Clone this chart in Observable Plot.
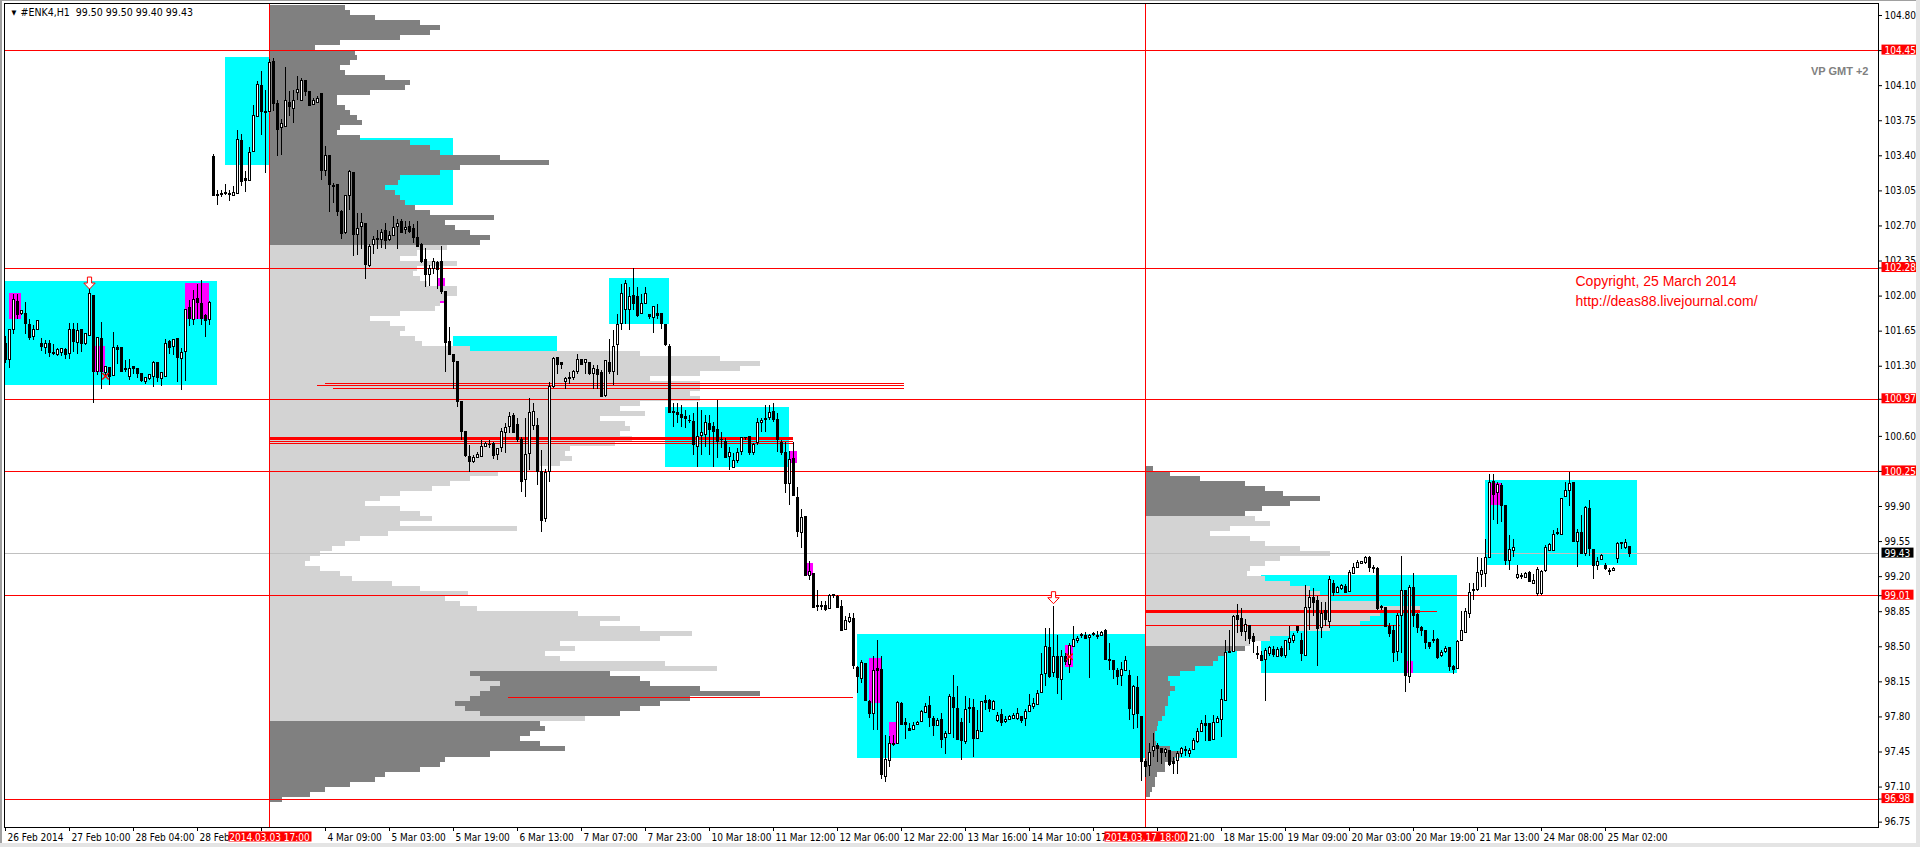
<!DOCTYPE html>
<html><head><meta charset="utf-8">
<script src="https://cdn.jsdelivr.net/npm/d3@7"></script>
<script src="https://cdn.jsdelivr.net/npm/@observablehq/plot@0.6"></script>
<style>
html,body{margin:0;padding:0;background:#fff;overflow:hidden}
#chart{width:1920px;height:847px}
</style></head><body><div id="chart"></div>
<script>
// ---------- DATA ----------
const chartTitle = "#ENK4,H1  99.50 99.50 99.40 99.43";
// H1 candles [open, high, low, close], one per bar
const candlesFeb = [
[101.52,101.60,101.33,101.36],[101.36,101.66,101.28,101.66],[101.66,102.02,101.62,101.96],[101.94,102.02,101.77,101.81],
[101.82,101.86,101.81,101.85],[101.82,101.94,101.62,101.72],[101.71,101.77,101.56,101.58],[101.59,101.71,101.56,101.66],
[101.66,101.76,101.66,101.75],[101.52,101.58,101.45,101.49],[101.48,101.56,101.42,101.52],[101.52,101.56,101.39,101.43],
[101.42,101.52,101.41,101.42],[101.41,101.48,101.40,101.46],[101.43,101.48,101.40,101.47],[101.46,101.48,101.37,101.41],
[101.42,101.73,101.37,101.66],[101.66,101.73,101.44,101.54],[101.53,101.73,101.42,101.65],[101.66,101.66,101.44,101.52],
[101.52,101.62,101.51,101.62],[101.60,102.09,101.60,102.02],[102.00,102.00,100.93,101.24],[101.24,101.58,101.21,101.58],
[101.57,101.74,101.07,101.24],[101.23,101.29,101.21,101.29],[101.28,101.28,101.11,101.19],[101.20,101.64,101.20,101.48],
[101.48,101.51,101.32,101.46],[101.48,101.48,101.24,101.24],[101.26,101.36,101.24,101.26],[101.19,101.37,101.16,101.27],
[101.29,101.30,101.22,101.27],[101.27,101.28,101.18,101.22],[101.22,101.22,101.14,101.15],[101.14,101.19,101.12,101.18],
[101.17,101.21,101.16,101.21],[101.19,101.35,101.09,101.33],[101.33,101.34,101.14,101.18],[101.17,101.24,101.10,101.23],
[101.19,101.57,101.19,101.52],[101.54,101.56,101.42,101.48],[101.49,101.57,101.41,101.56],[101.57,101.57,101.14,101.38],
[101.37,101.48,101.06,101.43],[101.44,101.86,101.15,101.86],[101.88,101.96,101.70,101.77],[101.76,102.06,101.71,101.96],
[101.97,102.12,101.77,101.93],[101.92,102.16,101.71,101.77],[101.80,101.82,101.59,101.75],[101.76,101.95,101.71,101.93]];
const candlesMar03 = [
[103.39,103.41,102.99,103.00],[103.01,103.05,102.90,103.00],[103.01,103.05,102.98,103.01],[103.02,103.11,103.00,103.02],
[103.01,103.05,102.94,103.01],[103.00,103.09,102.99,103.03],[103.02,103.65,103.02,103.56],[103.55,103.61,103.09,103.14],
[103.17,103.24,103.03,103.15],[103.15,103.48,103.15,103.43],[103.44,103.90,103.44,103.80],[103.79,104.14,103.78,104.11],
[104.10,104.24,103.60,103.84],[103.84,104.05,103.22,103.83],[103.84,104.36,103.84,104.33],[104.34,104.37,103.84,103.92],
[103.92,103.95,103.39,103.66],[103.68,103.76,103.40,103.72],[103.69,104.28,103.68,103.95],[103.93,104.04,103.79,103.89],
[103.87,104.05,103.72,103.95],[104.03,104.19,103.95,104.06],[103.95,104.17,103.94,104.15],[104.15,104.15,103.99,104.04],
[104.04,104.04,103.90,103.90],[103.91,103.97,103.90,103.95],[103.93,103.99,103.92,103.97],[104.02,104.02,103.15,103.25],
[103.25,103.49,103.19,103.40],[103.40,103.40,102.83,103.11],[103.09,103.12,102.92,103.09],[103.11,103.11,102.79,102.84],
[102.84,102.85,102.56,102.62],[102.63,103.00,102.61,103.00],[103.00,103.25,102.85,103.24],[103.23,103.23,102.40,102.61],
[102.61,102.82,102.41,102.67],[102.69,102.82,102.46,102.73],[102.72,102.72,102.17,102.31],[102.30,102.51,102.29,102.49],
[102.51,102.59,102.42,102.56],[102.57,102.65,102.46,102.56],[102.56,102.66,102.47,102.63],[102.65,102.72,102.46,102.55],
[102.56,102.64,102.54,102.60],[102.60,102.79,102.59,102.68],[102.69,102.76,102.46,102.72],[102.74,102.76,102.63,102.63],
[102.66,102.74,102.61,102.68],[102.69,102.74,102.62,102.64],[102.67,102.71,102.52,102.58],[102.58,102.74,102.49,102.49],
[102.51,102.52,102.33,102.34],[102.36,102.47,102.09,102.21],[102.21,102.31,102.10,102.27],[102.27,102.38,102.22,102.34],
[102.33,102.35,102.07,102.26],[102.34,102.49,102.02,102.04],[102.04,102.04,101.24,101.53],[101.54,101.69,101.41,101.41],
[101.41,101.42,101.07,101.34],[101.34,101.34,100.89,100.94],[100.94,100.95,100.56,100.64],[100.64,100.64,100.39,100.40],
[100.39,100.51,100.24,100.34],[100.34,100.41,100.33,100.38],[100.38,100.44,100.38,100.41],[100.39,100.56,100.39,100.49],
[100.49,100.54,100.49,100.52],[100.51,100.56,100.48,100.51],[100.52,100.54,100.37,100.40],[100.41,100.48,100.36,100.47],
[100.48,100.68,100.44,100.64],[100.63,100.73,100.43,100.68],[100.69,100.84,100.63,100.79],[100.80,100.83,100.63,100.63],
[100.71,100.78,100.54,100.56],[100.56,100.59,100.04,100.14],[100.16,100.78,99.99,100.41],[100.42,100.98,100.26,100.83],
[100.70,100.93,100.66,100.84],[100.70,100.78,100.11,100.24],[100.24,100.46,99.64,99.76],[99.78,100.27,99.74,100.23],
[100.24,101.14,100.14,101.09],[101.09,101.39,101.08,101.37],[101.38,101.39,101.22,101.31],[101.33,101.34,101.27,101.31],
[101.14,101.19,101.07,101.17],[101.17,101.24,101.12,101.18],[101.18,101.26,101.16,101.24],[101.24,101.42,101.22,101.36],
[101.36,101.37,101.31,101.31],[101.33,101.37,101.22,101.36],[101.33,101.34,101.21,101.22],[101.22,101.31,101.07,101.27],
[101.26,101.31,101.07,101.21],[101.23,101.26,100.99,100.99],[101.00,101.36,100.99,101.35],[101.33,101.57,101.22,101.24],
[101.24,101.66,101.11,101.49],[101.51,101.82,101.21,101.71],[101.72,102.12,101.66,102.02],[101.86,102.16,101.72,102.12],
[101.86,102.09,101.66,101.99],[102.00,102.28,101.86,101.92],[101.99,102.09,101.79,101.80],[101.82,102.02,101.82,101.92],
[101.92,102.09,101.92,102.02],[101.81,101.82,101.77,101.79],[101.78,101.90,101.63,101.89],[101.82,101.92,101.77,101.80],
[101.82,101.82,101.67,101.72],[101.71,101.72,101.50,101.51],[101.49,101.52,100.83,100.83]];
const candlesMar10 = [
[100.84,100.93,100.69,100.83],[100.83,100.93,100.73,100.81],[100.81,100.91,100.69,100.78],[100.79,100.86,100.68,100.77],
[100.75,100.81,100.73,100.75],[100.74,100.83,100.41,100.51],[100.49,100.94,100.29,100.59],[100.60,100.86,100.41,100.63],
[100.61,100.81,100.49,100.73],[100.72,100.81,100.41,100.66],[100.69,100.74,100.29,100.64],[100.66,100.96,100.38,100.54],
[100.56,100.64,100.48,100.56],[100.54,100.58,100.38,100.38],[100.39,100.49,100.26,100.43],[100.28,100.43,100.28,100.35],
[100.35,100.48,100.33,100.43],[100.44,100.59,100.41,100.58],[100.58,100.59,100.56,100.58],[100.59,100.59,100.41,100.43],
[100.43,100.53,100.41,100.51],[100.53,100.78,100.51,100.73],[100.73,100.78,100.64,100.75],[100.76,100.91,100.64,100.77],
[100.78,100.91,100.76,100.83],[100.84,100.93,100.74,100.76],[100.76,100.83,100.44,100.56],[100.53,100.56,100.41,100.43],
[100.43,100.54,100.03,100.12],[100.12,100.45,99.91,100.36],[100.37,100.54,100.00,100.00],[99.98,100.09,99.59,99.65],
[99.64,99.87,99.48,99.79],[99.80,99.80,99.20,99.21],[99.21,99.35,99.16,99.25],[99.23,99.23,98.88,98.89],
[98.91,99.06,98.85,98.90],[98.91,98.95,98.86,98.90],[98.91,98.95,98.85,98.87],[98.88,99.02,98.87,99.01],
[99.01,99.02,98.98,99.01],[99.00,99.01,98.88,98.89],[98.90,98.96,98.66,98.66],[98.67,98.80,98.66,98.76],
[98.75,98.83,98.73,98.79],[98.78,98.83,98.27,98.31],[98.29,98.30,98.03,98.20],[98.18,98.36,98.13,98.34],
[98.33,98.33,97.96,97.96],[97.95,97.96,97.78,97.83],[97.83,98.40,97.66,98.26],[98.28,98.56,97.66,98.26],
[98.27,98.40,97.18,97.22],[97.20,97.61,97.15,97.37],[97.36,97.60,97.30,97.53],[97.53,97.61,97.50,97.52],
[97.53,97.95,97.53,97.94],[97.93,97.94,97.72,97.72],[97.74,97.78,97.57,97.72],[97.68,97.73,97.66,97.66],
[97.67,97.74,97.66,97.71],[97.72,97.75,97.72,97.74],[97.75,97.86,97.74,97.85],[97.84,97.93,97.83,97.90],
[97.91,98.00,97.69,97.79],[97.78,97.80,97.60,97.71],[97.71,97.78,97.70,97.76],[97.77,97.83,97.48,97.57],
[97.59,97.65,97.43,97.63],[97.63,98.02,97.63,98.00],[97.99,98.21,97.58,97.89],[97.88,98.10,97.57,97.57],
[97.74,97.78,97.37,97.56],[97.55,98.00,97.52,97.87],[97.88,97.98,97.73,97.88],[97.89,97.97,97.40,97.58],
[97.58,97.86,97.58,97.66],[97.65,97.95,97.64,97.95],[97.96,98.01,97.86,97.94],[97.96,97.97,97.84,97.88],
[97.87,97.96,97.86,97.95],[97.76,97.84,97.74,97.81],[97.82,97.87,97.70,97.74],[97.75,97.80,97.73,97.77],
[97.77,97.81,97.76,97.80],[97.78,97.83,97.77,97.81],[97.78,97.88,97.76,97.83],[97.80,97.80,97.73,97.76],
[97.78,97.87,97.70,97.85],[97.85,98.02,97.84,97.91],[97.90,97.98,97.87,97.93],[97.92,98.06,97.91,98.03],
[98.04,98.43,98.03,98.22],[98.23,98.68,98.10,98.50],[98.49,98.68,98.18,98.20],[98.24,98.90,98.19,98.40],
[98.40,98.61,98.02,98.19],[98.17,98.46,97.96,98.40],[98.40,98.43,98.31,98.35],[98.32,98.53,98.23,98.51],
[98.50,98.70,98.50,98.57],[98.56,98.60,98.53,98.58],[98.61,98.63,98.58,98.61],[98.61,98.64,98.57,98.58],
[98.59,98.62,98.18,98.61],[98.62,98.64,98.60,98.62],[98.61,98.65,98.57,98.60],[98.61,98.65,98.60,98.64],
[98.66,98.67,98.36,98.37],[98.36,98.53,98.26,98.37],[98.36,98.36,98.17,98.27],[98.26,98.28,98.11,98.20],
[98.21,98.34,98.10,98.27],[98.26,98.40,98.25,98.36],[98.21,98.26,97.76,97.88],[97.82,98.11,97.67,98.10],
[98.09,98.20,97.68,97.83]];
const candlesMar17 = [
[97.80,97.80,97.16,97.35],[97.35,97.38,97.20,97.30],[97.31,97.53,97.21,97.44],[97.46,97.63,97.40,97.50],
[97.51,97.53,97.35,97.48],[97.48,97.48,97.33,97.44],[97.44,97.48,97.40,97.47],[97.46,97.46,97.31,97.32],
[97.35,97.40,97.23,97.33],[97.36,97.45,97.23,97.43],[97.43,97.49,97.40,97.48],[97.46,97.50,97.41,97.47],
[97.43,97.48,97.40,97.46],[97.47,97.58,97.46,97.56],[97.55,97.68,97.53,97.65],[97.65,97.76,97.64,97.73],
[97.73,97.81,97.55,97.71],[97.73,97.73,97.55,97.56],[97.57,97.81,97.56,97.74],[97.74,97.80,97.73,97.78],
[97.77,98.07,97.59,97.97],[97.96,98.56,97.95,98.44],[98.45,98.66,98.43,98.44],[98.45,98.81,98.44,98.80],
[98.81,98.92,98.63,98.77],[98.78,98.88,98.60,98.65],[98.65,98.77,98.55,98.72],[98.71,98.71,98.52,98.58],
[98.60,98.63,98.43,98.55],[98.43,98.50,98.37,98.42],[98.41,98.45,98.35,98.36],[98.37,98.48,97.95,98.46],
[98.43,98.50,98.40,98.49],[98.47,98.50,98.39,98.42],[98.40,98.49,98.39,98.47],[98.48,98.50,98.39,98.41],
[98.41,98.56,98.38,98.56],[98.54,98.70,98.46,98.58],[98.56,98.63,98.53,98.61],[98.70,98.70,98.63,98.66],
[98.56,98.63,98.35,98.43],[98.41,99.11,98.41,98.89],[98.89,99.06,98.66,98.99],[98.99,99.08,98.80,98.94],
[98.96,99.00,98.30,98.68],[98.69,98.94,98.58,98.83],[98.86,98.94,98.70,98.77],[98.75,99.20,98.68,99.17],
[99.13,99.16,99.00,99.04],[99.04,99.10,99.03,99.09],[99.08,99.12,99.06,99.11],[99.10,99.12,99.03,99.04],
[99.05,99.26,99.04,99.24],[99.23,99.33,99.23,99.29],[99.29,99.36,99.28,99.34],[99.33,99.35,99.32,99.35],
[99.34,99.40,99.32,99.39],[99.39,99.40,99.24,99.29],[99.29,99.31,99.23,99.28],[99.28,99.29,98.86,98.88],
[98.89,98.91,98.86,98.89],[98.89,98.89,98.70,98.70],[98.70,98.73,98.59,98.63],[98.66,98.71,98.34,98.44],
[98.45,98.83,98.35,98.81],[98.81,99.40,98.43,99.06],[99.06,99.06,98.04,98.21],[98.20,99.11,98.13,99.09],
[99.09,99.23,98.69,98.81],[98.82,98.83,98.63,98.69],[98.69,98.70,98.60,98.66],[98.66,98.66,98.47,98.54],
[98.54,98.54,98.47,98.50],[98.57,98.66,98.53,98.56],[98.57,98.58,98.37,98.39],[98.41,98.46,98.39,98.44],
[98.45,98.50,98.43,98.48],[98.49,98.49,98.25,98.30],[98.30,98.31,98.22,98.27],[98.28,98.56,98.27,98.55],
[98.56,98.85,98.55,98.66],[98.64,98.88,98.63,98.85],[98.83,99.13,98.78,99.04],[99.06,99.13,98.96,99.06],
[99.07,99.39,99.05,99.24],[99.22,99.38,99.09,99.26],[99.23,99.57,99.09,99.39],[99.39,100.22,99.39,100.13],
[100.14,100.22,99.76,100.01],[100.03,100.14,99.72,100.11],[100.10,100.13,99.74,99.91],[99.91,99.91,99.31,99.36],
[99.36,99.61,99.26,99.47],[99.46,99.57,99.39,99.49],[99.19,99.31,99.17,99.22],[99.21,99.23,99.17,99.20],
[99.19,99.24,99.18,99.23],[99.24,99.25,99.15,99.15],[99.13,99.22,99.12,99.16],[99.03,99.29,99.00,99.27],
[99.03,99.26,99.01,99.25],[99.26,99.51,99.24,99.49],[99.46,99.53,99.45,99.52],[99.46,99.66,99.45,99.62],
[99.63,99.68,99.61,99.63],[99.62,99.97,99.61,99.97],[99.99,100.14,99.99,100.05],[100.05,100.24,99.90,100.12],
[100.13,100.13,99.54,99.55],[99.55,99.67,99.29,99.64],[99.64,99.81,99.42,99.43],[99.43,99.90,99.40,99.89],
[99.88,99.96,99.40,99.48],[99.47,99.47,99.17,99.31],[99.31,99.39,99.26,99.35],[99.37,99.42,99.36,99.41],
[99.31,99.33,99.26,99.28],[99.26,99.28,99.21,99.25],[99.26,99.29,99.25,99.28],[99.38,99.54,99.33,99.53],
[99.53,99.54,99.47,99.53],[99.49,99.57,99.47,99.54],[99.50,99.50,99.39,99.43]];

// time axis: tick bar index and the label text that is visible next to it
const tickBars = [0,16,32,48,64,80,96,112,128,144,160,176,192,208,224,240,256,272,288,304,320,336,352,368,384,400];
const tickLabels = ["26 Feb 2014","27 Feb 10:00","28 Feb 04:00","28 Feb","","4 Mar 09:00","5 Mar 03:00",
  "5 Mar 19:00","6 Mar 13:00","7 Mar 07:00","7 Mar 23:00","10 Mar 18:00","11 Mar 12:00","12 Mar 06:00","12 Mar 22:00",
  "13 Mar 16:00","14 Mar 10:00","17","","18 Mar 15:00","19 Mar 09:00","20 Mar 03:00","20 Mar 19:00",
  "21 Mar 13:00","24 Mar 08:00","25 Mar 02:00"];
const tailBar = 288, tailLabel = "21:00";   // "17 Mar 21:00", date part hidden by the session label
// sessions where volume profiles start
const sessionBars = [66, 285];
const sessionLabels = ["2014.03.03 17:00", "2014.03.17 18:00"];
// price axis
const priceTicks = [104.80,104.10,103.75,103.40,103.05,102.70,102.35,102.00,101.65,101.30,100.60,
  99.90,99.55,99.20,98.85,98.50,98.15,97.80,97.45,97.10,96.75];
const levelLines = [104.45, 102.28, 100.97, 100.25, 99.01, 96.98];
const lastPrice = 99.43;

// cyan range boxes: bar from/to, price low/high
const boxFrom = [-0.25, 55, 71.25, 78.75, 151, 112, 165, 213, 314, 370];
const boxTo   = [53, 66, 83, 112, 166, 138, 196, 308, 363, 408];
const boxLow  = [101.11, 103.30, 103.57, 102.90, 101.72, 100.81, 100.29, 97.39, 98.23, 99.31];
const boxHigh = [102.15, 104.38, 104.25, 103.57, 102.18, 101.60, 100.89, 98.62, 99.21, 100.16];
// magenta highlights
const magFrom = [1, 22, 45, 108, 196, 200.5, 216, 221, 265, 350.5, 371.5];
const magTo   = [4, 25, 51, 110, 198, 202, 219, 223, 267, 352, 374];
const magLow  = [101.77, 101.24, 101.77, 101.93, 100.33, 99.21, 97.93, 97.52, 98.29, 98.23, 99.91];
const magHigh = [102.03, 101.50, 102.13, 102.18, 100.45, 99.33, 98.38, 97.74, 98.51, 98.35, 100.13];

// volume profile 1 (from session bar 66), rows of 0.05 from 104.90 down
const vpStep = 0.05;
const vp1Top = 104.90;
const vp1 = [76,81,106,151,171,161,131,71,46,86, 88,81,71,76,116,141,136,101,68,68,
 76,81,88,93,71,68,91,141,161,171, 231,280,191,171,131,129,116,126,131,136,
 146,161,225,176,186,201,221,211,178,148, 131,188,148,144,151,158,188,188,176,171,
 166,131,101,121,136,131,146,153,201,371, 451,491,471,431,381,431,431,421,431,371,
 351,376,331,356,361,351,363,346,301,296, 303,291,271,229,201,181,163,131,111,96,
 131,151,163,131,248,119,91,76,63,51, 41,36,51,71,83,123,151,199,176,191,
 208,309,351,331,371,423,391,291,306,276, 291,396,448,279,261,251,231,211,201,201,
 201,279,316,271,276,261,251,271,296,221, 176,171,151,116,106,81,56,41,13];
const vp1ValueArea = [48, 142];           // row range drawn light
const vp1SecondRows = [133,134,135,136,137,138,139,140,141];
const vp1SecondFrom = [201,211,231,221,211,201,186,196,211];
const vp1SecondTo   = [341,371,381,431,491,421,391,371,351];
// volume profile 2 (from session bar 285), rows of 0.05 from 100.30 down
const vp2Top = 100.30;
const vp2 = [8,25,55,100,120,138,175,145,117,100, 110,125,85,65,105,120,155,185,135,120,
 105,102,120,145,165,175,185,235,275,235, 225,215,185,145,125,105,100,80,73,68,
 50,35,23,25,30,25,23,23,20,20, 17,13,12,10,10,11,25,35,30,20, 20,12,10,10,7,5];
const vp2ValueArea = [10, 35];
const volUnit = 0.25; // bars per volume unit

// POC / level segments
const pocPrice = [100.575, 98.85];
const pocFrom  = [66, 285];
const pocTo    = [197, 353.75];
const segPrice = [101.13, 101.11, 101.08, 100.55, 100.53, 97.99, 98.85, 98.71];
const segFrom  = [80, 78, 82, 66, 66, 125.75, 285, 285];
const segTo    = [224.75, 224.75, 224.75, 197, 197, 212, 358, 348.75];

// signal marks
const arrowBars = [21, 262];
const arrowPrices = [102.13, 98.99];
const crossBars = [25, 266];
const crossPrices = [101.20, 98.40];

// notes
const noteLines = ["Copyright, 25 March 2014", "http://deas88.livejournal.com/"];
const noteBar = 392.5;
const notePrices = [102.15, 101.95];
const vpCaption = "VP GMT +2";

// ---------- BUILD ----------
const candles = [...candlesFeb, ...candlesMar03, ...candlesMar10, ...candlesMar17]
  .map((c, i) => ({i, o: c[0], h: c[1], l: c[2], c: c[3]}));
const up = candles.filter(d => d.c >= d.o);
const dn = candles.filter(d => d.c < d.o);
const bLo = d => Math.min(d.o, d.c);
const bHi = d => Math.max(d.o, d.c, Math.min(d.o, d.c) + 0.008);

const boxes = boxFrom.map((b, i) => ({b1: b, b2: boxTo[i], p1: boxLow[i], p2: boxHigh[i]}));
const mags = magFrom.map((b, i) => ({b1: b, b2: magTo[i], p1: magLow[i], p2: magHigh[i]}));

const vp1Rows = vp1.map((v, k) => ({k, v, top: vp1Top - k * vpStep}));
const vp1Light = vp1Rows.filter(d => d.k >= vp1ValueArea[0] && d.k <= vp1ValueArea[1]);
const vp1Dark = vp1Rows.filter(d => d.k < vp1ValueArea[0] || d.k > vp1ValueArea[1]);
const vp1Second = vp1SecondRows.map((k, i) => ({top: vp1Top - k * vpStep, a: vp1SecondFrom[i], b: vp1SecondTo[i]}));
const vp2Rows = vp2.map((v, k) => ({k, v, top: vp2Top - k * vpStep}));
const vp2Light = vp2Rows.filter(d => d.k >= vp2ValueArea[0] && d.k <= vp2ValueArea[1]);
const vp2Dark = vp2Rows.filter(d => d.k < vp2ValueArea[0] || d.k > vp2ValueArea[1]);

const pocs = pocPrice.map((p, i) => ({p, b1: pocFrom[i], b2: pocTo[i]}));
const segs = segPrice.map((p, i) => ({p, b1: segFrom[i], b2: segTo[i]}));
const arrows = arrowBars.map((b, i) => ({b, p: arrowPrices[i]}));
const crosses = crossBars.map((b, i) => ({b, p: crossPrices[i]}));
const ticks = tickBars.map((b, i) => ({b, t: tickLabels[i]})).filter(d => d.t);

// hollow down-arrow symbol (MT4 arrow object)
const downArrow = {
  draw(ctx, size) {
    const r = Math.sqrt(size / Math.PI);
    const w = r * 0.35, hw = r * 0.95;
    ctx.moveTo(-w, -r); ctx.lineTo(w, -r); ctx.lineTo(w, 0); ctx.lineTo(hw, 0);
    ctx.lineTo(0, r); ctx.lineTo(-hw, 0); ctx.lineTo(-w, 0); ctx.closePath();
  }
};

const axisFont = "'Liberation Sans Narrow','DejaVu Sans Condensed','Arial Narrow',sans-serif";
const LIGHT = "#d3d3d3", DARK = "#808080";
const crisp = "crispEdges";

const prof = (rows, anchor, fill) => Plot.rect(rows, {
  x1: anchor, x2: d => anchor + d.v * volUnit,
  y1: d => d.top - vpStep, y2: d => d.top, fill, inset: 0, shapeRendering: crisp
});

const chart = Plot.plot({
  width: 1920, height: 847,
  marginLeft: 4, marginRight: 42, marginTop: 3, marginBottom: 20,
  x: {domain: [-0.25, 468.25], axis: null},
  y: {domain: [96.6965, 104.92], axis: null},
  style: {background: "white", fontFamily: axisFont, fontSize: "10px", color: "black", overflow: "visible"},
  marks: [
    Plot.rect(boxes, {x1: "b1", x2: "b2", y1: "p1", y2: "p2", fill: "#00ffff", inset: 0, shapeRendering: crisp}),
    Plot.rect(mags, {x1: "b1", x2: "b2", y1: "p1", y2: "p2", fill: "#ff00ff", inset: 0, shapeRendering: crisp}),
    prof(vp1Light, sessionBars[0], LIGHT),
    prof(vp1Dark, sessionBars[0], DARK),
    Plot.rect(vp1Second, {x1: d => sessionBars[0] + d.a * volUnit, x2: d => sessionBars[0] + d.b * volUnit,
      y1: d => d.top - vpStep, y2: d => d.top, fill: DARK, inset: 0, shapeRendering: crisp}),
    prof(vp2Light, sessionBars[1], LIGHT),
    prof(vp2Dark, sessionBars[1], DARK),
    Plot.ruleY([lastPrice], {stroke: "#c0c0c0", shapeRendering: crisp}),
    Plot.ruleY(levelLines, {stroke: "#ff0000", shapeRendering: crisp}),
    Plot.ruleY(segs, {y: "p", x1: "b1", x2: "b2", stroke: "#ff0000", shapeRendering: crisp}),
    Plot.ruleY(pocs, {y: "p", x1: "b1", x2: "b2", stroke: "#ff0000", strokeWidth: 3, shapeRendering: crisp}),
    Plot.ruleX(sessionBars, {stroke: "#ff0000", shapeRendering: crisp}),
    Plot.ruleX(candles, {x: "i", y1: "l", y2: "h", stroke: "black", shapeRendering: crisp}),
    Plot.rect(up, {x1: d => d.i - 0.25, x2: d => d.i + 0.25, y1: bLo, y2: bHi, fill: "white", stroke: "black", inset: 0, shapeRendering: crisp}),
    Plot.rect(dn, {x1: d => d.i - 0.25, x2: d => d.i + 0.25, y1: bLo, y2: bHi, fill: "black", stroke: "black", inset: 0, shapeRendering: crisp}),
    Plot.dot(arrows, {x: "b", y: "p", symbol: downArrow, r: 6, stroke: "#ff0000", fill: "white", strokeWidth: 1}),
    Plot.dot(crosses, {x: "b", y: "p", symbol: "times", r: 3, stroke: "#ff0000", strokeWidth: 1.5}),
    Plot.frame({stroke: "black", shapeRendering: crisp}),
    Plot.axisY({anchor: "right", ticks: [...priceTicks, ...levelLines], tickFormat: d => priceTicks.includes(d) ? d.toFixed(2) : "",
      tickSize: 3, tickPadding: 3, label: null}),
    Plot.axisX({anchor: "bottom", ticks: tickBars, tickFormat: () => "", tickSize: 4, label: null}),
    Plot.text(ticks, {x: "b", text: "t", frameAnchor: "bottom", dy: 10, dx: 2, textAnchor: "start", lineAnchor: "middle"}),
    Plot.text([tailLabel], {x: () => tailBar, text: d => d, frameAnchor: "bottom", dy: 10, dx: 31, textAnchor: "start", lineAnchor: "middle"}),
    Plot.text(levelLines, {y: d => d, text: d => d.toFixed(2), frameAnchor: "right", dx: 6, textAnchor: "start",
      fill: "white", className: "redlabel"}),
    Plot.text([lastPrice], {y: d => d, text: d => d.toFixed(2), frameAnchor: "right", dx: 6, textAnchor: "start",
      fill: "white", className: "blacklabel"}),
    Plot.text(sessionBars, {x: d => d, text: (d, i) => sessionLabels[i], frameAnchor: "bottom", dy: 10,
      lineAnchor: "middle", fill: "white", className: "sessionlabel"}),
    Plot.text([chartTitle], {frameAnchor: "top-left", dx: 16, dy: 9, lineAnchor: "middle", textAnchor: "start", fontSize: 10.5}),
    Plot.text(["\u25bc"], {frameAnchor: "top-left", dx: 7, dy: 9, lineAnchor: "middle", fontSize: 7}),
    Plot.text([vpCaption], {frameAnchor: "top-right", dx: -10, dy: 68, lineAnchor: "middle", textAnchor: "end",
      fill: "#808080", fontSize: 11, fontWeight: "bold", fontFamily: "'Liberation Sans',Arial,sans-serif"}),
    Plot.text(noteLines, {x: () => noteBar, y: (d, i) => notePrices[i], text: d => d, fill: "#ff0000", fontSize: 14,
      textAnchor: "start", fontFamily: "'Liberation Sans',Arial,sans-serif"})
  ]
});
document.getElementById("chart").append(chart);

const NS = "http://www.w3.org/2000/svg";
// label backgrounds (axis price flags and session time flags)
for (const [cls, color, pad] of [["redlabel", "#ff0000", 3], ["blacklabel", "#000000", 3], ["sessionlabel", "#ff0000", 1]]) {
  const texts = [];
  chart.querySelectorAll(`.${cls}`).forEach(el => {
    if (el.tagName.toLowerCase() === "text") texts.push(el);
    else el.querySelectorAll("text").forEach(t => texts.push(t));
  });
  for (const t of texts) {
    const b = t.getBBox();
    const r = document.createElementNS(NS, "rect");
    r.setAttribute("x", Math.round(b.x - pad)); r.setAttribute("y", Math.round(b.y));
    r.setAttribute("width", Math.round(b.width + 2 * pad)); r.setAttribute("height", Math.round(b.height - 1));
    r.setAttribute("fill", color);
    const tr = t.getAttribute("transform"); if (tr) r.setAttribute("transform", tr);
    t.parentNode.insertBefore(r, t);
  }
}
// terminal window edges
for (const [x, y, w, h, f] of [[0, 0, 1920, 1, "#a0a0a0"], [0, 0, 2, 847, "#a0a0a0"], [1916, 0, 4, 847, "#e4e4e4"], [0, 843, 1920, 4, "#e4e4e4"]]) {
  const r = document.createElementNS(NS, "rect");
  r.setAttribute("x", x); r.setAttribute("y", y); r.setAttribute("width", w); r.setAttribute("height", h);
  r.setAttribute("fill", f); chart.appendChild(r);
}
</script></body></html>
